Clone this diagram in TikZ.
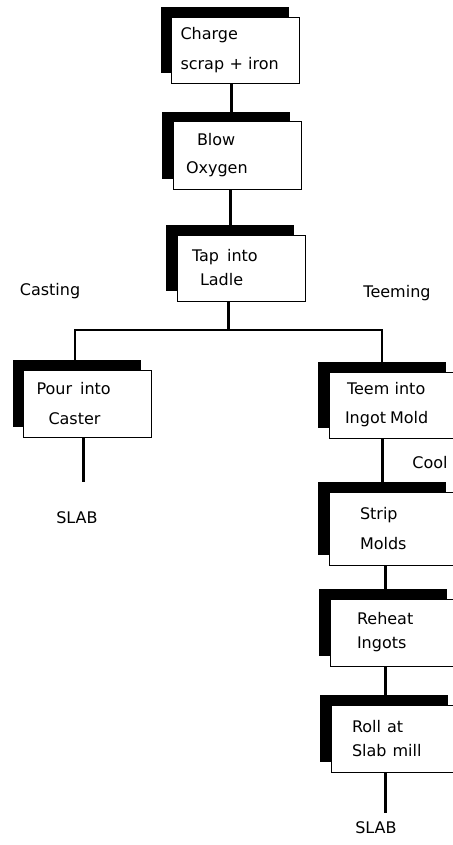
\documentclass[tikz,border=0pt]{standalone}
\usepackage{fontspec}
\setmainfont{DejaVu Sans}
\usetikzlibrary{shadows,calc}
\tikzset{
  stepbox/.style={draw=black, line width=1pt, fill=white, align=left, inner xsep=9pt, text width=110pt, minimum height=66pt, font=\fontsize{16}{24}\selectfont, drop shadow={shadow xshift=-11pt, shadow yshift=10pt, fill=black, opacity=1}},
  stem/.style={line width=3pt},
  branch/.style={line width=2pt},
  tag/.style={font=\fontsize{16}{19}\selectfont}
}
\begin{document}
\begin{tikzpicture}[x=1pt, y=-1pt]
  \useasboundingbox (0,0) rectangle (452,845);
  % main line
  \node[stepbox] (charge) at (235.5,50.5) {Charge\\[6pt]scrap + iron};
  \node[stepbox, minimum height=67pt] (blow) at (237,155.5) {\hspace*{15pt}Blow\\[4pt]\hspace*{4pt}Oxygen};
  \node[stepbox] (tap) at (241,268) {\hspace*{6pt}Tap\hspace{8pt}into\\\hspace*{14pt}Ladle};
  \coordinate (castfork) at (75,330);
  \coordinate (teemfork) at (382,330);
  % casting branch
  \node[tag] (casting) at (50,291) {Casting};
  \node[stepbox, minimum height=67pt] (pour) at (87.5,403.5) {\hspace*{4pt}Pour\hspace{8pt}into\\[6pt]\hspace*{16pt}Caster};
  \coordinate (pourend) at (83,482);
  \node[tag] (slableft) at (77,518) {SLAB};
  % teeming branch
  \node[tag] (teeming) at (397,293) {Teeming};
  \node[stepbox] (teem) at (393,405) {\hspace*{9pt}Teem into\\[5pt]\hspace*{7pt}Ingot\hspace{4pt}Mold};
  \node[tag] (cool) at (430,463) {Cool};
  \node[stepbox, minimum height=73pt] (strip) at (393,528.5) {\hspace*{22pt}Strip\\[6pt]\hspace*{22pt}Molds};
  \node[stepbox, minimum height=67pt] (reheat) at (394,632.5) {\hspace*{18pt}Reheat\\\hspace*{18pt}Ingots};
  \node[stepbox, minimum height=67pt] (roll) at (395,738.5) {\hspace*{12pt}Roll\hspace{6pt}at\\\hspace*{12pt}Slab\hspace{6pt}mill};
  \coordinate (rollend) at (385,813);
  \node[tag] (slabright) at (376,828) {SLAB};
  % connectors
  \draw[stem] ([xshift=-4.5pt]charge.south) -- ([xshift=-4.5pt]charge.south |- blow.north);
  \draw[stem] ([xshift=-7pt]blow.south) -- ([xshift=-7pt]blow.south |- tap.north);
  \draw[stem] ([xshift=-13pt]tap.south) -- ([xshift=-13pt]tap.south |- castfork);
  \draw[branch] (castfork |- pour.north) -- (castfork) -- (teemfork) -- (teemfork |- teem.north);
  \draw[stem] (pour.south -| pourend) -- (pourend);
  \draw[stem] ([xshift=-11pt]teem.south) -- ([xshift=-11pt]teem.south |- strip.north);
  \draw[stem] ([xshift=-8pt]strip.south) -- ([xshift=-8pt]strip.south |- reheat.north);
  \draw[stem] ([xshift=-9pt]reheat.south) -- ([xshift=-9pt]reheat.south |- roll.north);
  \draw[stem] (roll.south -| rollend) -- (rollend);
\end{tikzpicture}
\end{document}
